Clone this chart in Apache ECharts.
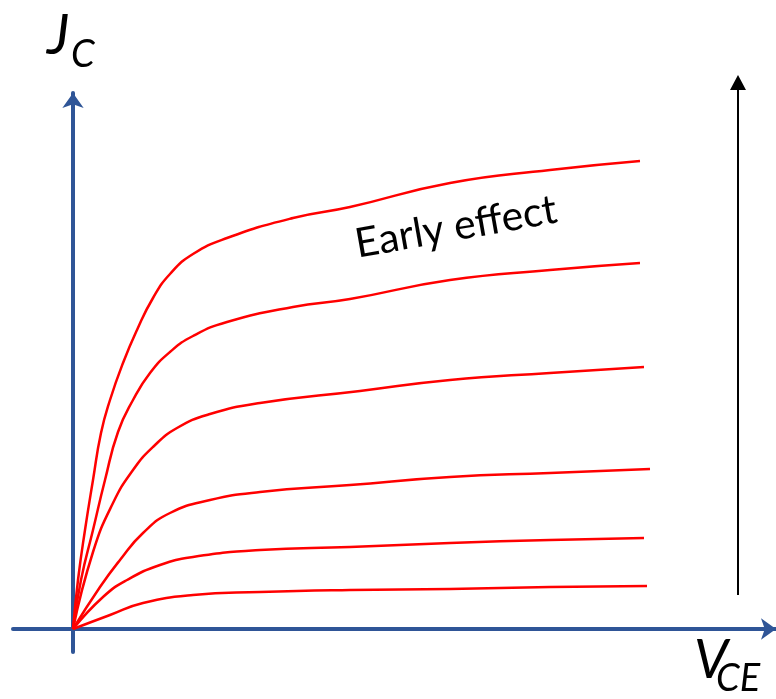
<!DOCTYPE html>
<html>
<head>
<meta charset="utf-8">
<script src="https://cdn.jsdelivr.net/npm/echarts@6/dist/echarts.min.js"></script>
<style>
  html, body { margin: 0; padding: 0; background: #fff; }
  #chart { width: 776px; height: 699px; }
</style>
</head>
<body>
<div id="chart"></div>
<script>
// collector current curves, [V_CE, J_C] (arbitrary units)
var curve1 = [[0, 0], [0.1, 0.98], [0.24, 1.98], [0.4, 2.98], [0.56, 3.92], [0.74, 4.58], [1.0, 5.32], [1.28, 5.98], [1.6, 6.62], [1.94, 7.1], [2.4, 7.5], [3.08, 7.82], [4.4, 8.22], [5.54, 8.44], [7.54, 8.92], [9.54, 9.18], [11.34, 9.36]];
var curve2 = [[0, 0], [0.16, 0.98], [0.4, 1.98], [0.64, 2.98], [0.9, 3.94], [1.2, 4.58], [1.54, 5.12], [1.94, 5.54], [2.4, 5.86], [3.08, 6.14], [4.4, 6.44], [5.54, 6.6], [7.54, 6.98], [9.54, 7.18], [11.34, 7.32]];
var curve3 = [[0, 0], [0.4, 1.54], [0.8, 2.52], [1.2, 3.18], [1.6, 3.64], [2.08, 4.02], [2.74, 4.3], [3.74, 4.52], [5.74, 4.76], [7.54, 4.98], [9.54, 5.12], [11.42, 5.24]];
var curve4 = [[0, 0], [0.54, 0.84], [0.94, 1.38], [1.4, 1.92], [1.94, 2.32], [2.74, 2.58], [3.74, 2.74], [5.54, 2.88], [7.54, 3.04], [9.54, 3.12], [11.54, 3.2]];
var curve5 = [[0, 0], [0.6, 0.64], [1.08, 0.98], [1.74, 1.28], [2.4, 1.44], [3.74, 1.58], [5.54, 1.64], [7.54, 1.72], [9.54, 1.78], [11.42, 1.82]];
var curve6 = [[0, 0], [0.74, 0.28], [1.4, 0.52], [2.4, 0.68], [3.74, 0.74], [5.54, 0.78], [7.54, 0.8], [9.54, 0.84], [11.48, 0.86]];
var curves = [curve1, curve2, curve3, curve4, curve5, curve6];

var axisBlue = '#2F5597';
var font = 'Lato, "Open Sans", sans-serif';

var chart = echarts.init(document.getElementById('chart'), null, { renderer: 'canvas' });

function axisOpt(min, max) {
	return {
		type: 'value',
		min: min,
		max: max,
		axisLine: {
			show: true,
			onZero: true,
			symbol: ['none', 'arrow'],
			symbolSize: [16, 15],
			lineStyle: { color: axisBlue, width: 4 }
		},
		axisTick: { show: false },
		axisLabel: { show: false },
		splitLine: { show: false }
	};
}

// one item per curve; the curve is drawn through the axis scales as a smooth polyline
function renderCurve(params, api) {
	var pts = curves[params.dataIndex].map(function (p) {
		return api.coord(p);
	});
	return {
		type: 'polyline',
		shape: { points: pts, smooth: 0.5 },
		style: { stroke: '#FF0000', lineWidth: 2.5, fill: null }
	};
}

var option = {
	animation: false,
	backgroundColor: '#ffffff',
	grid: { left: 13, right: 0, top: 93, bottom: 47 },
	xAxis: axisOpt(-1.2, 14.06),
	yAxis: axisOpt(-0.46, 10.72),
	series: [{
		type: 'custom',
		coordinateSystem: 'cartesian2d',
		clip: false,
		data: curves.map(function (c) { return c[c.length - 1]; }),
		renderItem: renderCurve,
		z: 3
	}],
	graphic: [
		// big arrow on the right
		{ type: 'line', shape: { x1: 738, y1: 595, x2: 738, y2: 88 }, style: { stroke: '#000', lineWidth: 2 } },
		{ type: 'polygon', shape: { points: [[738, 75], [730, 90], [746, 90]] }, style: { fill: '#000' } },
		// axis titles
		{ type: 'text', left: 47, top: 8, style: { text: 'J', font: 'italic 56px ' + font, fill: '#000' } },
		{ type: 'text', left: 71, top: 36, style: { text: 'C', font: 'italic 38px ' + font, fill: '#000' } },
		{ type: 'text', left: 694, top: 634, style: { text: 'V', font: 'italic 54px ' + font, fill: '#000' } },
		{ type: 'text', left: 716, top: 660, style: { text: 'CE', font: 'italic 38px ' + font, fill: '#000' } },
		// annotation
		{
			type: 'text',
			x: 456, y: 227,
			rotation: 10 * Math.PI / 180,
			style: { text: 'Early effect', font: '41px ' + font, fill: '#000', textAlign: 'center', textVerticalAlign: 'middle' }
		}
	]
};

chart.setOption(option);
</script>
</body>
</html>
